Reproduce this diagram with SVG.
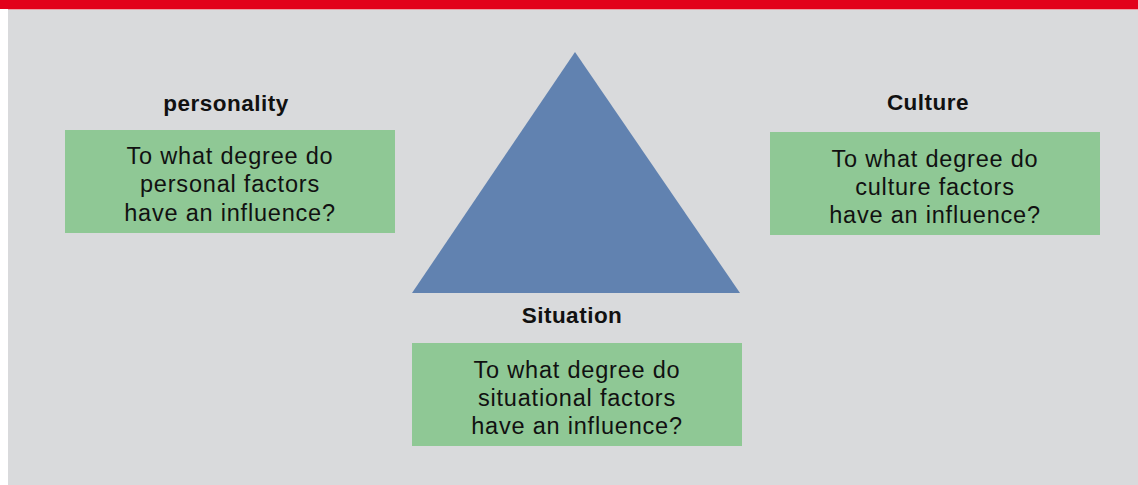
<svg xmlns="http://www.w3.org/2000/svg" width="1138" height="485" viewBox="0 0 1138 485">
<style>
.title{font-family:"Liberation Sans",Arial,sans-serif;font-weight:bold;font-size:22.5px;letter-spacing:0.5px;fill:#111;text-anchor:middle}
.body{font-family:"Liberation Sans",Arial,sans-serif;font-size:23.5px;letter-spacing:0.8px;fill:#111;text-anchor:middle}
.box{fill:#8fc895}
</style>
<rect x="0" y="0" width="1138" height="485" fill="#ffffff"/>
<rect x="8" y="9" width="1130" height="476" fill="#d9dadc"/>
<rect x="0" y="0" width="1138" height="9" fill="#e2001a"/>
<rect x="8" y="9" width="1130" height="1" fill="#e9a0a8"/>
<g id="triangle"><polygon points="575,52 412,293 740,293" fill="#6182b0"/></g>
<g id="personality">
<text class="title" x="226" y="111">personality</text>
<rect class="box" x="65" y="130" width="330" height="103"/>
<text class="body" x="230" y="164">To what degree do</text>
<text class="body" x="230" y="192">personal factors</text>
<text class="body" x="230" y="221">have an influence?</text>
</g>
<g id="culture">
<text class="title" x="928" y="110">Culture</text>
<rect class="box" x="770" y="132" width="330" height="103"/>
<text class="body" x="935" y="167">To what degree do</text>
<text class="body" x="935" y="195">culture factors</text>
<text class="body" x="935" y="223">have an influence?</text>
</g>
<g id="situation">
<text class="title" x="572" y="323">Situation</text>
<rect class="box" x="412" y="343" width="330" height="103"/>
<text class="body" x="577" y="378">To what degree do</text>
<text class="body" x="577" y="406">situational factors</text>
<text class="body" x="577" y="434">have an influence?</text>
</g>
<g id="connectors"></g>
</svg>
